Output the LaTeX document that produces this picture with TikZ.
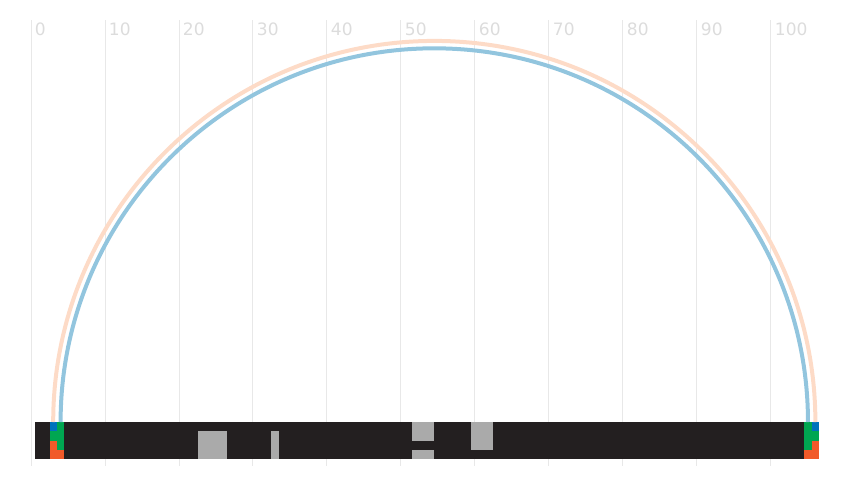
\documentclass[tikz,border=0pt]{standalone}
\usepackage{fontspec}
\setmainfont{DejaVu Sans}
\usepackage{xcolor}
\definecolor{cfcccc}{HTML}{231F20}
\definecolor{aaaaaa}{HTML}{AAAAAA}
\definecolor{qqhhbb}{HTML}{0072BC}
\definecolor{qqaafq}{HTML}{00A651}
\definecolor{ffzzcc}{HTML}{F15A29}
\definecolor{ppcceq}{HTML}{92C5DE}
\definecolor{ffddcc}{HTML}{FDDBC7}
\definecolor{eeeeee}{HTML}{E8E8E8}
\definecolor{dddddd}{HTML}{DCDCDC}

\begin{document}
\begin{tikzpicture}[tick/.style={anchor=west, inner sep=0pt, text=dddddd, font=\fontsize{12.8}{15}\selectfont},x=5.55pt,y=5.55pt]
\clip(-4.19,-8.38) rectangle (110.41,57.03);
\draw [line width=0.75pt,color=eeeeee] (0,-5.95)-- (0,54.3);
\draw [line width=0.75pt,color=eeeeee] (10,-5.95)-- (10,54.3);
\draw [line width=0.75pt,color=eeeeee] (20,-5.95)-- (20,54.3);
\draw [line width=0.75pt,color=eeeeee] (30,-5.95)-- (30,54.3);
\draw [line width=0.75pt,color=eeeeee] (40,-5.95)-- (40,54.3);
\draw [line width=0.75pt,color=eeeeee] (50,-5.95)-- (50,54.3);
\draw [line width=0.75pt,color=eeeeee] (60,-5.95)-- (60,54.3);
\draw [line width=0.75pt,color=eeeeee] (70,-5.95)-- (70,54.3);
\draw [line width=0.75pt,color=eeeeee] (80,-5.95)-- (80,54.3);
\draw [line width=0.75pt,color=eeeeee] (90,-5.95)-- (90,54.3);
\draw [line width=0.75pt,color=eeeeee] (100,-5.95)-- (100,54.3);
\node[tick] (t0) at (0.5,53.1) {0};
\node[tick] (t10) at (10.5,53.1) {10};
\node[tick] (t20) at (20.5,53.1) {20};
\node[tick] (t30) at (30.5,53.1) {30};
\node[tick] (t40) at (40.5,53.1) {40};
\node[tick] (t50) at (50.5,53.1) {50};
\node[tick] (t60) at (60.5,53.1) {60};
\node[tick] (t70) at (70.5,53.1) {70};
\node[tick] (t80) at (80.5,53.1) {80};
\node[tick] (t90) at (90.5,53.1) {90};
\node[tick] (t100) at (100.5,53.1) {100};
% bar
\fill [color=cfcccc] (0.5,0) rectangle (106.5,-5);
\fill [color=aaaaaa] (22.5,-1.25) rectangle (26.5,-5);
\fill [color=aaaaaa] (32.5,-1.25) rectangle (33.5,-5);
\fill [color=aaaaaa] (51.5,0) rectangle (54.5,-2.5);
\fill [color=aaaaaa] (51.5,-3.75) rectangle (54.5,-5);
\fill [color=aaaaaa] (59.5,0) rectangle (62.5,-3.75);
% left end
\fill [color=qqhhbb] (2.5,0) rectangle (3.5,-1.25);
\fill [color=qqaafq] (2.5,-1.25) rectangle (3.5,-2.5);
\fill [color=ffzzcc] (2.5,-2.5) rectangle (3.5,-5);
\fill [color=qqaafq] (3.5,0) rectangle (4.5,-3.75);
\fill [color=ffzzcc] (3.5,-3.75) rectangle (4.5,-5);
% right end
\fill [color=qqaafq] (104.5,0) rectangle (105.5,-3.75);
\fill [color=ffzzcc] (104.5,-3.75) rectangle (105.5,-5);
\fill [color=qqhhbb] (105.5,0) rectangle (106.5,-1.25);
\fill [color=qqaafq] (105.5,-1.25) rectangle (106.5,-2.5);
\fill [color=ffzzcc] (105.5,-2.5) rectangle (106.5,-5);
% arcs
\draw [line width=3pt,color=ffddcc] (3,0) arc (180:0:51.5);
\draw [line width=3pt,color=ppcceq] (4,0) arc (180:0:50.5);
\end{tikzpicture}
\end{document}
